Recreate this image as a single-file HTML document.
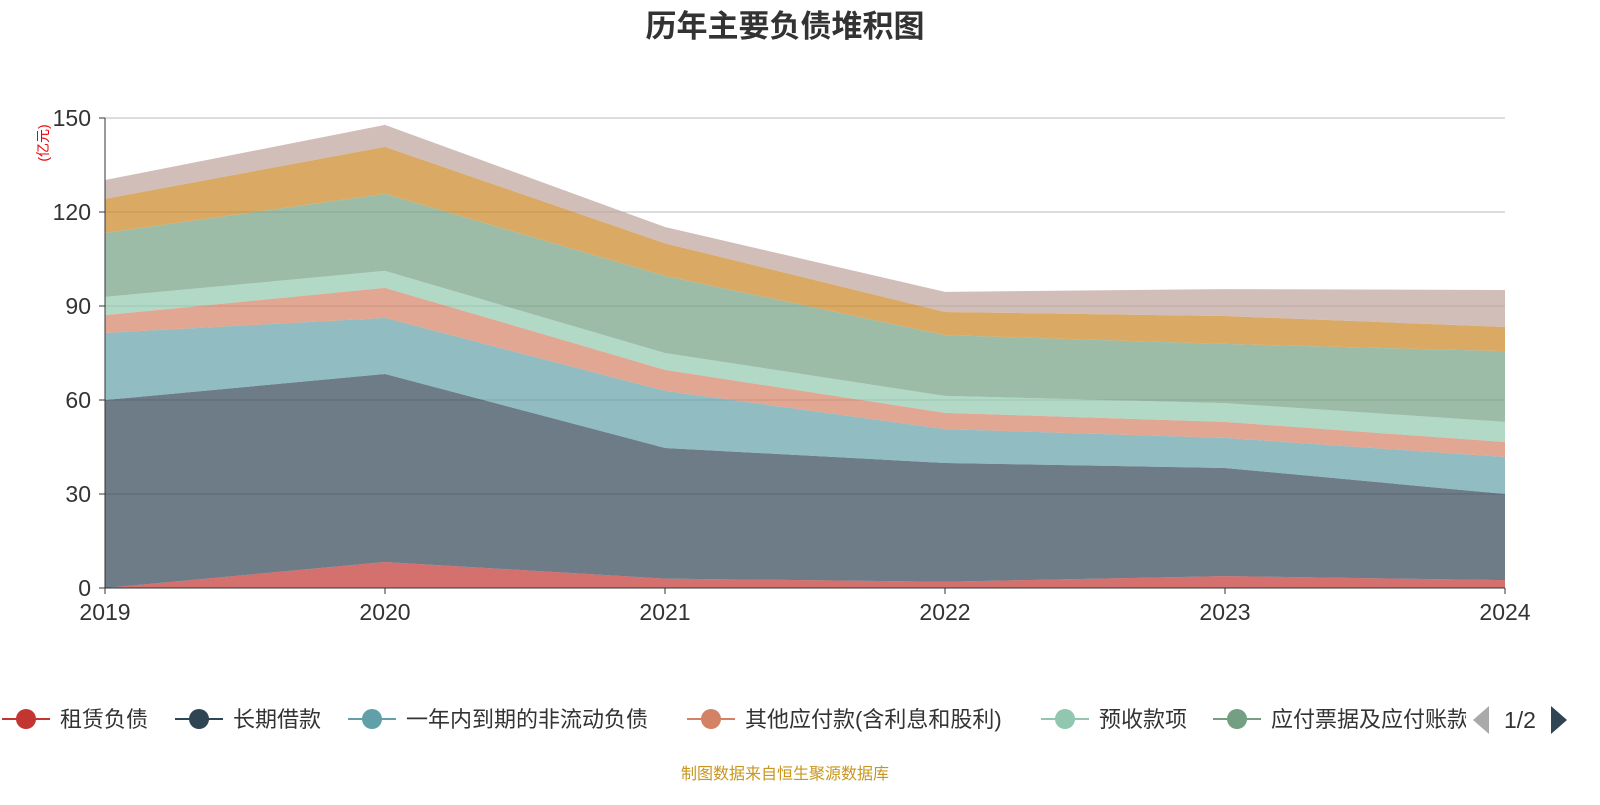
<!DOCTYPE html>
<html><head><meta charset="utf-8"><style>
body{margin:0;background:#fff;width:1600px;height:800px;overflow:hidden;font-family:"Liberation Sans","Noto Sans CJK SC",sans-serif}
</style></head><body>
<svg width="1600" height="800" style="font-family:'Liberation Sans','Noto Sans CJK SC',sans-serif">
<text x="785" y="37" text-anchor="middle" font-size="31" font-weight="bold" fill="#333">历年主要负债堆积图</text>
<text transform="translate(48,143) rotate(-90)" text-anchor="middle" font-size="14" fill="#e00">(亿元)</text>
<g id="grid"></g><g id="areas"></g><g id="axes"></g><g id="legend"></g>
<text x="785" y="779" text-anchor="middle" font-size="16" fill="#c8961e">制图数据来自恒生聚源数据库</text>
</svg>
<script>
const years=["2019","2020","2021","2022","2023","2024"];
const yTicks=[0,30,60,90,120,150];
const seriesNames=["租赁负债","长期借款","一年内到期的非流动负债","其他应付款(含利息和股利)","预收款项","应付票据及应付账款","应付账款","其他"];
const colors=["#c23531","#2f4554","#61a0a8","#d48265","#91c7ae","#749f83","#ca8622","#bda29a"];
const s0=[0,8.3,3,2,3.8,2.5];
const s1=[60,60,41.7,37.9,34.5,27.5];
const s2=[21.4,17.9,18.2,10.8,9.6,11.8];
const s3=[5.7,9.6,6.7,5.2,5.1,4.8];
const s4=[5.8,5.4,5.4,5.4,6,6.4];
const s5=[20.4,24.6,24.6,19.4,18.9,22.6];
const s6=[10.9,15,10.4,7.4,8.9,7.7];
const s7=[6,7,5.2,6.4,8.6,11.8];
const series=[s0,s1,s2,s3,s4,s5,s6,s7];
const NS="http://www.w3.org/2000/svg";
const X0=105,X1=1505,Y0=588,Y1=118,VMAX=150;
const xs=i=>X0+(X1-X0)*i/(years.length-1);
const ys=v=>Y0-(Y0-Y1)*v/VMAX;
function mk(t,a,p){const e=document.createElementNS(NS,t);for(const k in a)e.setAttribute(k,a[k]);p.appendChild(e);return e;}
const grid=document.getElementById('grid'),areas=document.getElementById('areas'),axes=document.getElementById('axes'),leg=document.getElementById('legend');
yTicks.forEach(v=>{if(v>0){const l=mk('line',{x1:X0,x2:X1,y1:ys(v),y2:ys(v),stroke:'#bbb','stroke-width':1},grid);

}
const t=mk('text',{x:X0-14,y:ys(v)+8,'text-anchor':'end','font-size':23,fill:'#333'},axes);t.textContent=v;


mk('line',{x1:X0-6,x2:X0,y1:ys(v),y2:ys(v),stroke:'#333'},axes);});
let base=years.map(()=>0);
series.forEach((s,k)=>{const top=s.map((v,i)=>base[i]+v);
let d='M'+top.map((v,i)=>xs(i)+','+ys(v)).join('L');
for(let i=years.length-1;i>=0;i--)d+='L'+xs(i)+','+ys(base[i]);
const p=mk('path',{d:d+'Z',fill:colors[k],'fill-opacity':0.7},areas);


base=top;});
mk('line',{x1:X0,x2:X0,y1:Y1,y2:Y0,stroke:'#333'},axes);
mk('line',{x1:X0,x2:X1,y1:Y0,y2:Y0,stroke:'#333'},axes);
years.forEach((y,i)=>{mk('line',{x1:xs(i),x2:xs(i),y1:Y0,y2:Y0+6,stroke:'#333'},axes);
const t=mk('text',{x:xs(i),y:Y0+32,'text-anchor':'middle','font-size':23,fill:'#333'},axes);t.textContent=y;

});
const legX=[2,175,348,687,1041,1213];
const cp=mk('clipPath',{id:'lc'},leg);mk('rect',{x:0,y:690,width:1466,height:60},cp);
legX.forEach((x,k)=>{const g=mk('g',{'clip-path':'url(#lc)'},leg);


mk('line',{x1:x,x2:x+48,y1:719,y2:719,stroke:colors[k],'stroke-width':2},g);
mk('circle',{cx:x+24,cy:719,r:10,fill:colors[k]},g);
const t=mk('text',{x:x+58,y:727,'font-size':22,fill:'#333'},g);t.textContent=seriesNames[k];});
const pl=mk('path',{d:'M1489,706L1473,720L1489,734Z',fill:'#aaa'},leg);


const pt=mk('text',{x:1520,y:728,'text-anchor':'middle','font-size':23,fill:'#333'},leg);pt.textContent='1/2';


const pr=mk('path',{d:'M1551,706L1567,720L1551,734Z',fill:'#2f4554'},leg);


</script>
</body></html>
